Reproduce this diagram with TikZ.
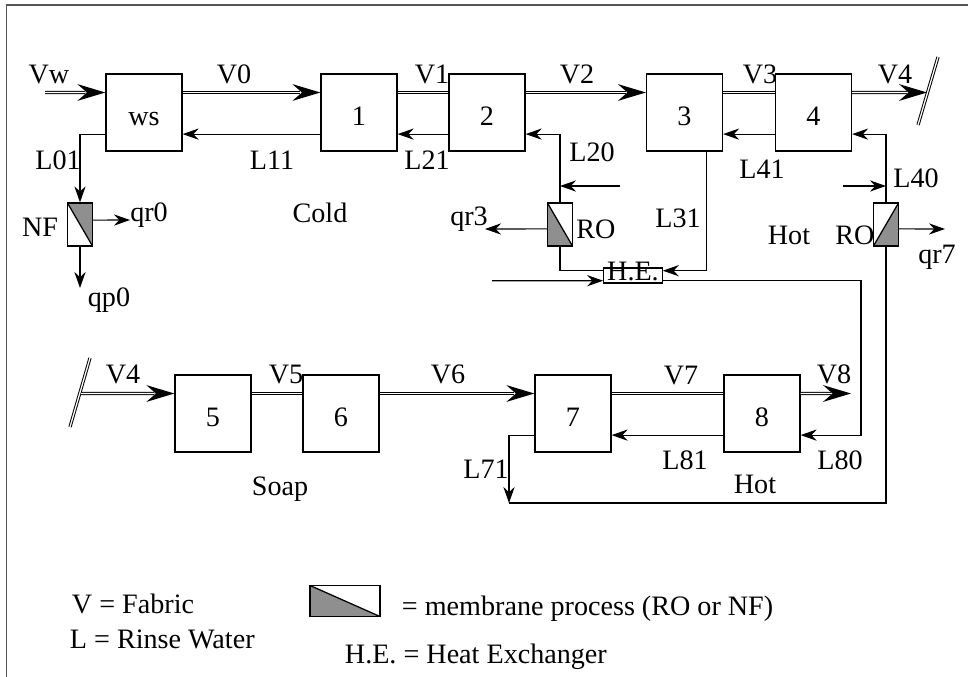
\documentclass[tikz,border=0pt]{standalone}
\usepackage{fontspec}
\setmainfont{Liberation Serif}
\usetikzlibrary{arrows.meta,decorations.markings}
\definecolor{memgrey}{HTML}{8F8F8F}
\definecolor{framegrey}{HTML}{555555}
\tikzset{
  every node/.style={font=\fontsize{20}{24}\selectfont},
  stage/.style={draw, line width=0.9pt, minimum width=1.9cm, minimum height=1.925cm,
    inner sep=0pt, label={[yshift=-0.2cm, text height=0.68em, text depth=0pt]center:#1}},
  heatx/.style={draw, line width=0.8pt, inner xsep=2.5pt, inner ysep=2pt,
    text height=0.66em, text depth=0pt},
  memb/.style={draw, line width=0.9pt, minimum width=0.625cm, minimum height=1.075cm,
    inner sep=0pt},
  memTR/.style={memb, path picture={
    \fill[memgrey] (path picture bounding box.north west) -- (path picture bounding box.north east)
      -- (path picture bounding box.south east) -- cycle;
    \draw[line width=0.9pt] (path picture bounding box.north west) -- (path picture bounding box.south east);}},
  memBL/.style={memb, path picture={
    \fill[memgrey] (path picture bounding box.north west) -- (path picture bounding box.south west)
      -- (path picture bounding box.south east) -- cycle;
    \draw[line width=0.9pt] (path picture bounding box.north west) -- (path picture bounding box.south east);}},
  memBR/.style={memb, path picture={
    \fill[memgrey] (path picture bounding box.south west) -- (path picture bounding box.south east)
      -- (path picture bounding box.north east) -- cycle;
    \draw[line width=0.9pt] (path picture bounding box.south west) -- (path picture bounding box.north east);}},
  fabline/.style={draw, line width=0.7pt, double, double distance=0.9pt},
  fab/.style={fabline, shorten >=5mm, postaction={decorate, decoration={markings,
    mark=at position 1 with {\fill[black] (0,0) -- (-7mm,2.1mm) -- (-4.6mm,0) -- (-7mm,-2.1mm) -- cycle;}}}},
  liq/.style={line width=0.8pt, -{Stealth[length=4mm, width=2.8mm, inset=1.3mm]}},
  plain/.style={line width=0.8pt},
  tag/.style={anchor=base}
}
\begin{document}
\begin{tikzpicture}[x=0.025cm, y=-0.025cm]
\useasboundingbox (0,0) rectangle (968,677);
% frame
\draw[framegrey, line width=1pt] (6.5,677) -- (6.5,5) -- (968,5);

% wash stages, cold / hot half
\node[stage=ws] (ws) at (144,112.5) {};
\node[stage=1] (b1) at (359,112.5) {};
\node[stage=2] (b2) at (487,112.5) {};
\node[stage=3] (b3) at (684.5,112.5) {};
\node[stage=4] (b4) at (813.5,112.5) {};
% soap / hot half
\node[stage=5] (b5) at (213,413.5) {};
\node[stage=6] (b6) at (341,413.5) {};
\node[stage=7] (b7) at (573,413.5) {};
\node[stage=8] (b8) at (762,413.5) {};

% membranes and heat exchanger
\node[memTR] (nf) at (80,224.5) {};
\node[memBL] (ro3) at (560,224.5) {};
\node[memBR] (ro7) at (886,224.5) {};
\node[heatx] (he) at (633,275.5) {H.E.};

% free ends
\coordinate (vwin) at (45,92.5);
\coordinate (cutA) at (927,92.5);
\coordinate (cutB) at (81,393.5);
\coordinate (v8e) at (851,393.5);
\coordinate (qr0e) at (130,220);
\coordinate (qp0e) at (80,288);
\coordinate (qr3e) at (485,229);
\coordinate (qr7e) at (945,229);
\coordinate (in20) at (620,186);
\coordinate (in40) at (843,186);
\coordinate (hein) at (492,280.7);
\coordinate (hxc) at (861,350);
\coordinate (l71c) at (509,503);

% fabric, top row
\draw[fab] (vwin) -- ([yshift=5mm]ws.west);
\draw[fab] ([yshift=5mm]ws.east) -- ([yshift=5mm]b1.west);
\draw[fabline] ([yshift=5mm]b1.east) -- ([yshift=5mm]b2.west);
\draw[fab] ([yshift=5mm]b2.east) -- ([yshift=5mm]b3.west);
\draw[fabline] ([yshift=5mm]b3.east) -- ([yshift=5mm]b4.west);
\draw[fab] ([yshift=5mm]b4.east) -- (cutA);
\draw[fabline] (918,125) -- (938,57);
% fabric, bottom row
\draw[fabline] (70,427) -- (90,358);
\draw[fab] (cutB) -- ([yshift=5mm]b5.west);
\draw[fabline] ([yshift=5mm]b5.east) -- ([yshift=5mm]b6.west);
\draw[fab] ([yshift=5mm]b6.east) -- ([yshift=5mm]b7.west);
\draw[fabline] ([yshift=5mm]b7.east) -- ([yshift=5mm]b8.west);
\draw[fab] ([yshift=5mm]b8.east) -- (v8e);

% rinse water
\draw[liq] ([yshift=-5.4mm]b1.west) -- ([yshift=-5.4mm]ws.east);
\draw[liq] ([yshift=-5.4mm]b2.west) -- ([yshift=-5.4mm]b1.east);
\draw[liq] ([yshift=-5.4mm]b4.west) -- ([yshift=-5.4mm]b3.east);
\draw[liq] ([yshift=-5.4mm]b8.west) -- ([yshift=-5.4mm]b7.east);
\draw[liq] ([yshift=-5.4mm]ws.west) -| (nf.north);
\draw[liq] ([yshift=1.1mm]nf.east) -- (qr0e);
\draw[liq] (nf.south) -- (qp0e);
\draw[liq] (ro3.north) |- ([yshift=-5.4mm]b2.east);
\draw[liq] (in20) -- (in20 -| ro3.north);
\draw[liq] ([yshift=-1.1mm]ro3.west) -- (qr3e);
\draw[plain] (ro3.south) |- ([yshift=1.2mm]he.west);
\draw[liq] (hein) -- ([yshift=-1.3mm]he.west);
\draw[liq] ([xshift=5.4mm]b3.south) |- ([yshift=1.2mm]he.east);
\draw[liq] ([yshift=-1.3mm]he.east) -| (hxc) |- ([yshift=-5.4mm]b8.east);
\draw[liq] (ro7.north) |- ([yshift=-5.4mm]b4.east);
\draw[liq] (in40) -- (in40 -| ro7.north);
\draw[liq] ([yshift=-1.1mm]ro7.east) -- (qr7e);
\draw[plain] (ro7.south) |- (l71c);
\draw[liq] ([yshift=-5.4mm]b7.west) -| (l71c);

% stream labels
\node[tag] (tVw) at (49,83) {Vw};
\node[tag] (tV0) at (234,83) {V0};
\node[tag] (tV1) at (432,83) {V1};
\node[tag] (tV2) at (577,83) {V2};
\node[tag] (tV3) at (760,83) {V3};
\node[tag] (tV4) at (895,83) {V4};
\node[tag] (tL01) at (58,169) {L01};
\node[tag] (tL11) at (272,169) {L11};
\node[tag] (tL21) at (427,169) {L21};
\node[tag] (tL20) at (592,161) {L20};
\node[tag] (tL41) at (762,178) {L41};
\node[tag] (tL40) at (916,187) {L40};
\node[tag] (tNF) at (40,236) {NF};
\node[tag] (tqr0) at (149,221) {qr0};
\node[tag] (tqp0) at (109,306) {qp0};
\node[tag] (tCold) at (320,222) {Cold};
\node[tag] (tqr3) at (469,225) {qr3};
\node[tag] (tRO3) at (596,238) {RO};
\node[tag] (tL31) at (678,227) {L31};
\node[tag] (tHotA) at (789,244) {Hot};
\node[tag] (tRO7) at (855,244) {RO};
\node[tag] (tqr7) at (937,263) {qr7};
\node[tag] (tV4b) at (123,383) {V4};
\node[tag] (tV5) at (286,383) {V5};
\node[tag] (tV6) at (448,383) {V6};
\node[tag] (tV7) at (681,384) {V7};
\node[tag] (tV8) at (834,383) {V8};
\node[tag] (tL81) at (685,469) {L81};
\node[tag] (tL80) at (840,469) {L80};
\node[tag] (tL71) at (486,478) {L71};
\node[tag] (tHotB) at (755,493) {Hot};
\node[tag] (tSoap) at (280,495) {Soap};

% legend
\node[anchor=base west] (kV) at (67,613) {V = Fabric};
\node[anchor=base west] (kL) at (65,648) {L = Rinse Water};
\node[memBL, minimum width=1.75cm, minimum height=0.775cm] (kmem) at (345,601) {};
\node[anchor=base west] (kmemt) at (397,615) {= membrane process (RO or NF)};
\node[anchor=base west] (khe) at (340,663) {H.E. = Heat Exchanger};
\end{tikzpicture}
\end{document}
